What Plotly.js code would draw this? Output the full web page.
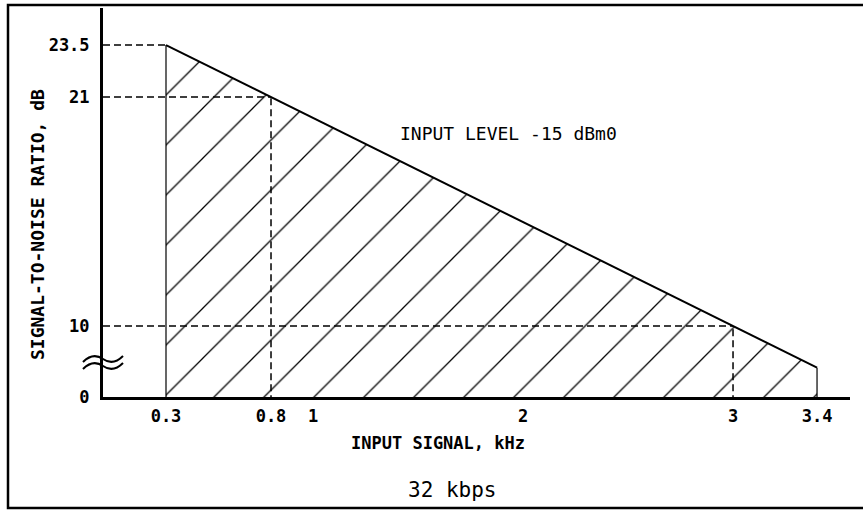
<!DOCTYPE html>
<html>
<head>
<meta charset="utf-8">
<script src="https://cdn.plot.ly/plotly-3.0.1.min.js"></script>
<style>html,body{margin:0;padding:0;background:#fff;}#chart{width:863px;height:510px;}</style>
</head>
<body>
<div id="chart"></div>
<script>
// Data
const freqKHz = [0.3, 0.8, 3.0, 3.4];
const snrDB = [23.5, 21, 10, 8];
const xTickVals = [0.3, 0.8, 1, 2, 3, 3.4];
const xTickText = ['0.3', '0.8', '1', '2', '3', '3.4'];
const yTickVals = [10, 21, 23.5];
const yTickText = ['10', '21', '23.5'];
const yBreakLabel = '0';
const noteText = 'INPUT LEVEL -15 dBm0';
const xTitle = 'INPUT SIGNAL, kHz';
const yTitle = 'SIGNAL-TO-NOISE RATIO, dB';
const caption = '32 kbps';

// Axis ranges (upper part of the broken y axis is linear)
const xRange = [0, 3.557];
const yRange = [6.59, 25.28];

const W = 863, H = 510;
const M = {l: 103, r: 13, t: 8, b: 113};
const pw = W - M.l - M.r, ph = H - M.t - M.b;
const px = v => (v - M.l) / pw;        // pixel -> paper x
const py = v => (H - M.b - v) / ph;    // pixel -> paper y

const mono = 'DejaVu Sans Mono, monospace';
const traces = [];

// hatched region under the S/N line
traces.push({
  x: freqKHz, y: snrDB, type: 'scatter', mode: 'lines',
  line: {color: '#000', width: 2},
  fill: 'tozeroy', fillcolor: '#fff',
  fillpattern: {shape: '/', size: 35.36, solidity: 0.036, fgcolor: '#000', bgcolor: '#fff', fillmode: 'replace'},
  hoverinfo: 'skip', showlegend: false
});
// vertical edges of the band
[0, freqKHz.length - 1].forEach(i => {
  traces.push({
    x: [freqKHz[i], freqKHz[i]], y: [0, snrDB[i]], type: 'scatter', mode: 'lines',
    line: {color: '#000', width: 1.2}, hoverinfo: 'skip', showlegend: false
  });
});
// dashed guides to the y axis
[0, 1, 2].forEach(i => {
  traces.push({
    x: [0, freqKHz[i]], y: [snrDB[i], snrDB[i]], type: 'scatter', mode: 'lines',
    line: {color: '#000', width: 1.5, dash: '7px,4px'}, hoverinfo: 'skip', showlegend: false
  });
});
// dashed guides to the x axis
[1, 2].forEach(i => {
  traces.push({
    x: [freqKHz[i], freqKHz[i]], y: [0, snrDB[i]], type: 'scatter', mode: 'lines',
    line: {color: '#000', width: 1.5, dash: '7px,4px'}, hoverinfo: 'skip', showlegend: false
  });
});

// axis break symbol (two waves across the y axis)
function wave(x0, y0) {
  const p = (a, b) => px(a).toFixed(4) + ',' + py(b).toFixed(4);
  return 'M' + p(x0, y0 + 3) + ' Q' + p(x0 + 10, y0 - 7) + ' ' + p(x0 + 20, y0) +
         ' Q' + p(x0 + 30, y0 + 7) + ' ' + p(x0 + 40, y0 - 3);
}

const layout = {
  width: W, height: H, margin: M,
  paper_bgcolor: '#fff', plot_bgcolor: '#fff',
  showlegend: false,
  font: {family: mono, color: '#000'},
  xaxis: {
    range: xRange, showgrid: false, zeroline: false,
    showline: true, linecolor: '#000', linewidth: 3,
    tickmode: 'array', tickvals: xTickVals, ticktext: xTickText,
    ticks: '', ticklabelstandoff: 2,
    tickfont: {family: mono, size: 17, color: '#000', weight: 'bold'}
  },
  yaxis: {
    range: yRange, showgrid: false, zeroline: false,
    showline: true, linecolor: '#000', linewidth: 3,
    tickmode: 'array', tickvals: [yRange[0]].concat(yTickVals), ticktext: [yBreakLabel].concat(yTickText),
    ticks: '', ticklabelstandoff: 7,
    tickfont: {family: mono, size: 17, color: '#000', weight: 'bold'}
  },
  shapes: [
    {type: 'rect', xref: 'paper', yref: 'paper', x0: px(8), x1: px(900), y0: py(508), y1: py(5),
     line: {color: '#000', width: 2.5}, fillcolor: 'rgba(0,0,0,0)', layer: 'above'},
    {type: 'path', xref: 'paper', yref: 'paper', path: wave(83, 359), line: {color: '#000', width: 2}},
    {type: 'path', xref: 'paper', yref: 'paper', path: wave(83, 366), line: {color: '#000', width: 2}}
  ],
  annotations: [
    {text: noteText, xref: 'paper', yref: 'paper', x: px(508), y: py(133), showarrow: false,
     xanchor: 'center', yanchor: 'middle', font: {family: mono, size: 18, color: '#000'}},
    {text: xTitle, xref: 'paper', yref: 'paper', x: px(438), y: py(443), showarrow: false,
     xanchor: 'center', yanchor: 'middle', font: {family: mono, size: 17, color: '#000', weight: 'bold'}},
    {text: yTitle, xref: 'paper', yref: 'paper', x: px(37), y: py(225), showarrow: false, textangle: -90,
     xanchor: 'center', yanchor: 'middle', font: {family: mono, size: 18, color: '#000', weight: 'bold'}},
    {text: caption, xref: 'paper', yref: 'paper', x: px(452), y: py(490), showarrow: false,
     xanchor: 'center', yanchor: 'middle', font: {family: mono, size: 21, color: '#000'}}
  ]
};

Plotly.newPlot('chart', traces, layout, {staticPlot: true, displayModeBar: false});
</script>
</body>
</html>
